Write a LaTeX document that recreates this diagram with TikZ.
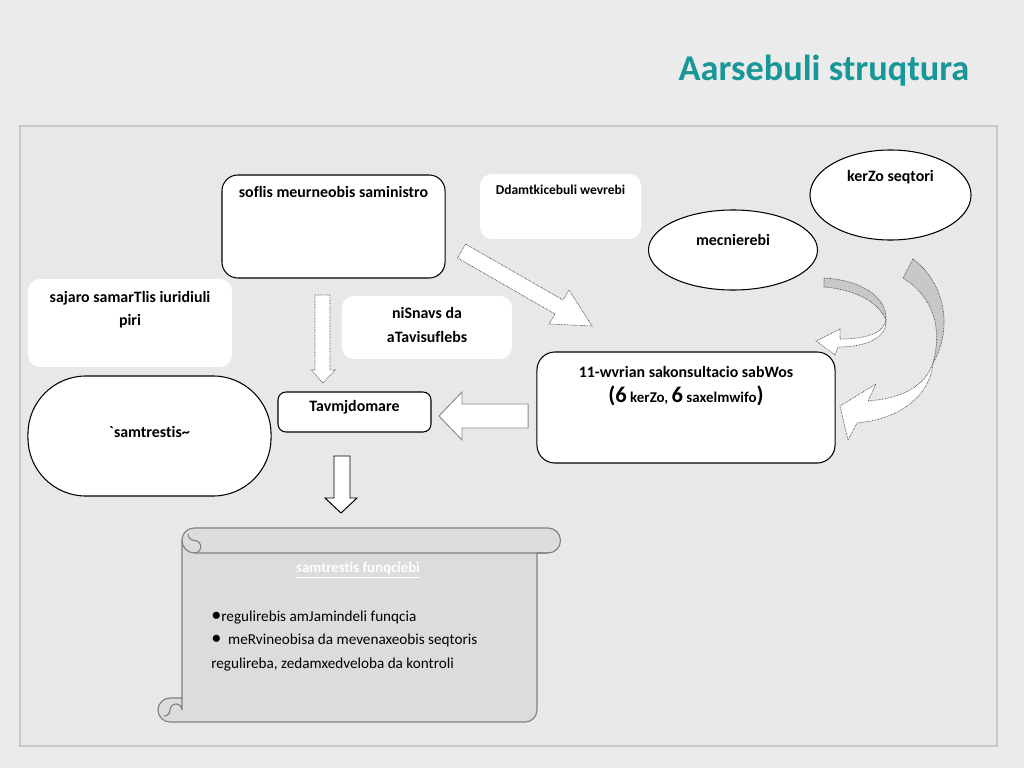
\documentclass[tikz,border=0pt]{standalone}
\usepackage{fontspec}
\setmainfont{Carlito}[Ligatures={TeX,CommonOff}]
\newfontfamily\rohfont{Carlito}[Ligatures={TeXOff,CommonOff}]
\usetikzlibrary{shapes.geometric,calc,positioning}
\definecolor{hinter}{HTML}{EBEBEB}
\definecolor{feld}{HTML}{E8E8E8}
\definecolor{rahmen}{HTML}{C9C9C9}
\definecolor{titel}{HTML}{179797}
\definecolor{rolle}{HTML}{DCDCDC}
\definecolor{band}{HTML}{C8C8C8}

\begin{document}
\begin{tikzpicture}[x=0.025cm,y=-0.025cm,
kasten/.style={draw,fill=white,line width=0.75pt,rounded corners=0.4cm,inner sep=0pt},
weiss/.style={fill=white,rounded corners=0.3cm,inner sep=0pt},
oval/.style={ellipse,draw,fill=white,line width=0.75pt,inner sep=0pt},
txt/.style={font=\fontsize{11.3}{17}\selectfont\bfseries,align=center,inner sep=0pt},
pfeil/.style={draw=black!70,fill=white,dash pattern=on 0.5pt off 0.6pt,line width=0.5pt},
blockpfeil/.style={draw=black!45,fill=white,line width=0.7pt},
rollen/.style={draw=black!50,fill=rolle,line width=0.8pt}]
\fill[hinter] (0,0) rectangle (1024,768);
\useasboundingbox (0,0) rectangle (1024,768);
\draw[rahmen,fill=feld,line width=1.2pt] (20,126) rectangle (997,746);
\node  [font=\fontsize{25.8}{30}\selectfont\bfseries,text=titel] (tit) at (824,71){Aarsebuli struqtura};
% kaesten und ovale
\node  [kasten,minimum width=5.575cm,minimum height=2.575cm] (sam) at (333.5,226.5){};
\node  [weiss,minimum width=4.025cm,minimum height=1.625cm] (dam) at (560.5,206.5){};
\node  [oval,minimum width=4.225cm,minimum height=2cm] (mec) at (733,250){};
\node  [oval,minimum width=4.025cm,minimum height=2.25cm] (ker) at (890.5,195){};
\node  [weiss,minimum width=5.1cm,minimum height=2.2cm] (saj) at (130,323){};
\node  [weiss,minimum width=4.25cm,minimum height=1.575cm] (nis) at (427,327.5){};
\node  [kasten,rounded corners=0.2cm,minimum width=3.825cm,minimum height=1cm] (tav) at (354.5,412){};
\node  [kasten,rounded corners=0.45cm,minimum width=7.45cm,minimum height=2.775cm] (sab) at (686,407.5){};
\node  [kasten,rounded corners=1.45cm,minimum width=6.075cm,minimum height=3cm] (smt) at (149.5,436){};
% texte
\node  [txt] (samt) at ($(sam.north)+(0,18)$){soflis meurneobis saministro};
\node  [txt,font=\fontsize{9.6}{11}\selectfont\bfseries] (damt) at ($(dam.north)+(0,16)$){Ddamtkicebuli wevrebi};
\node  [txt] (mect) at ($(mec.north)+(0,31)$){mecnierebi};
\node  [txt] (kert) at ($(ker.north)+(0,28)$){kerZo seqtori};
\node  [txt] (sajt) at ($(saj.north)+(0,31)$){sajaro samarTlis iuridiuli\\piri};
\node  [txt] (nist) at ($(nis.north)+(0,29)$){niSnavs da\\aTavisuflebs};
\node  [txt] (tavt) at ($(tav.north)+(0,16)$){Tavmjdomare};
\node  [txt] (sabt1) at ($(sab.north)+(0,21)$){11-wvrian sakonsultacio sabWos};
\node  [txt,font=\fontsize{10.6}{17}\selectfont\bfseries] (sabt2) at ($(sab.north)+(0,44)$){{\fontsize{16}{17}\selectfont(6} kerZo, {\fontsize{16}{17}\selectfont 6} saxelmwifo{\fontsize{16}{17}\selectfont)}};
\node  [txt] (smtt) at ($(smt.center)+(0,-4)$){{\rohfont`samtrestis\char"7E}};
% blockpfeile
\draw[pfeil] (315,295) -- (330,295) -- (330,370) -- (335,370) -- (323,383) -- (311,370) -- (315,370) -- cycle;
\draw[pfeil] (457.5,258) -- (555,314) -- (549,324) -- (592,326) -- (569,290) -- (563,300) -- (465.5,244) -- cycle;
\draw[blockpfeil] (528,404) -- (462,404) -- (462,392) -- (439,416) -- (462,440) -- (462,428) -- (528,428) -- cycle;
\draw[fill=white,line width=0.7pt] (334,456) -- (350,456) -- (350,498) -- (357,498) -- (341,513) -- (325,498) -- (334,498) -- cycle;
% gebogene pfeile
\filldraw[pfeil,fill=band] (824,278) .. controls (860,280) and (887,296) .. (886,320) .. controls (880,305) and (860,290) .. (824,287) -- cycle;
\filldraw[pfeil] (886,320) .. controls (884,333) and (866,339) .. (840,339) -- (840,329) -- (816,341) -- (835,355) -- (838,347) .. controls (868,347) and (887,337) .. (886,320) -- cycle;
\filldraw[pfeil,fill=band] (913,259) .. controls (942,280) and (955,325) .. (933,363) .. controls (942,330) and (935,298) .. (903,278) -- cycle;
\filldraw[pfeil] (933,363) .. controls (925,385) and (905,398) .. (868,401) -- (876,384) -- (840,406) -- (848,440) -- (857,423) .. controls (900,419) and (930,396) .. (933,363) -- cycle;
% schriftrolle
\filldraw[rollen] (194,528) -- (548,528) arc[start angle=-90,end angle=90,radius=12.5] -- (537,553) -- (537,710) arc[start angle=0,end angle=90,radius=12] -- (170,722) arc[start angle=90,end angle=270,radius=12] -- (182,698) -- (182,540) arc[start angle=180,end angle=270,radius=12] -- cycle;
\draw[rollen,fill=none] (182,540.5) arc[start angle=180,end angle=90,radius=12.5] -- (548,553);
\draw[rollen,fill=none] (194.5,553) arc[start angle=90,end angle=-90,radius=6.25] arc[start angle=90,end angle=180,radius=6.25];
\draw[rollen,fill=none] (182,698) -- (182,710) arc[start angle=0,end angle=-180,radius=6] arc[start angle=0,end angle=90,radius=6];
\node  [font=\fontsize{10.5}{12}\selectfont\bfseries,text=white] (funt) at (358,570){\underline{samtrestis funqciebi}};
\node  [font=\fontsize{10.8}{17}\selectfont,align=left,anchor=west,inner sep=0pt] (funl) at (211,641){{\Large•}regulirebis amJamindeli funqcia\\{\Large•}\ \ meRvineobisa da mevenaxeobis seqtoris\\regulireba, zedamxedveloba da kontroli};
\end{tikzpicture}
\end{document}
